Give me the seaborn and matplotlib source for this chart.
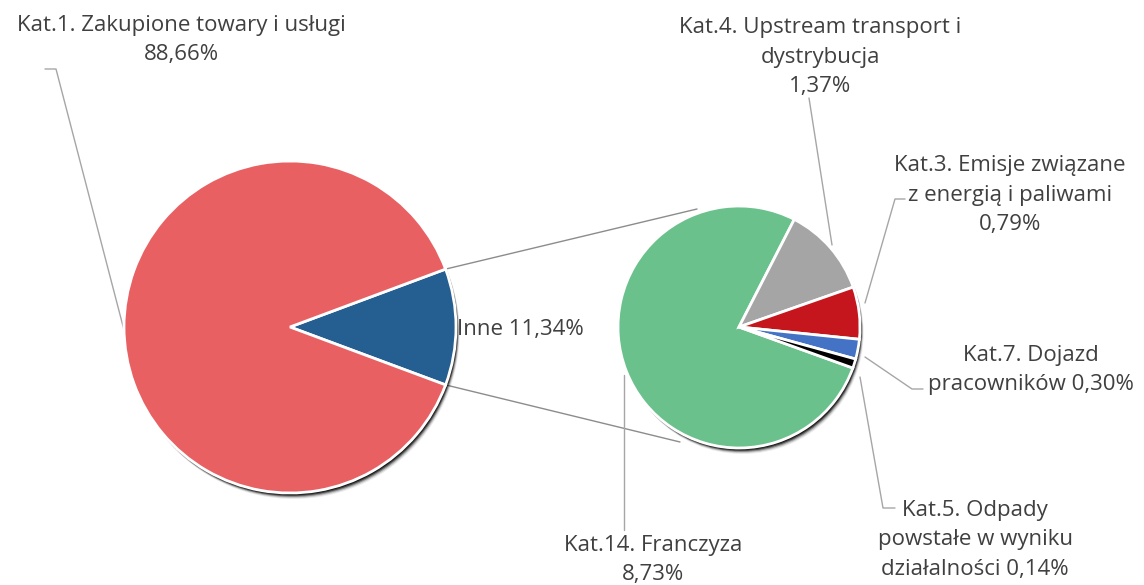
import numpy as np
import matplotlib
matplotlib.use("Agg")
import matplotlib.pyplot as plt
from matplotlib.patches import Circle
import seaborn as sns

# data
main_labels = ["Inne", "Kat.1. Zakupione towary i usługi"]
main_values = [11.34, 88.66]
main_colors = ["#255E91", "#E96063"]

sub_labels = ["Kat.14. Franczyza", "Kat.4. Upstream transport i\ndystrybucja",
              "Kat.3. Emisje związane\nz energią i paliwami",
              "Kat.7. Dojazd\npracowników", "Kat.5. Odpady\npowstałe w wyniku\ndziałalności"]
sub_values = [8.73, 1.37, 0.79, 0.30, 0.14]
sub_colors = ["#6BC18C", "#A5A5A5", "#C4161C", "#4472C4", "#000000"]

sns.set_theme(style="white")
plt.rcParams["font.family"] = ["Open Sans", "DejaVu Sans"]

W, H = 1144, 585
fig = plt.figure(figsize=(W / 100, H / 100), dpi=100)
ax = fig.add_axes([0, 0, 1, 1])

def P(x, y):
    # pixel (top-left origin) -> data coords
    return (x, H - y)

c1, r1 = P(290, 327), 166
c2, r2 = P(739, 327), 121

# soft shadows
for c, r in [(c1, r1), (c2, r2)]:
    for k, a in [(6, 0.08), (5, 0.15), (4, 0.3), (3, 0.5), (2, 0.7)]:
        ax.add_patch(Circle((c[0] + k * 0.6, c[1] - k), r, color="black", alpha=a, lw=0, zorder=1))

half = main_values[0] / sum(main_values) * 360 / 2
ax.pie(main_values, colors=main_colors, center=c1, radius=r1, startangle=half,
       counterclock=False, wedgeprops=dict(edgecolor="white", linewidth=2, zorder=2))

sub_span = sub_values[0] / sum(sub_values) * 360
ax.pie(sub_values, colors=sub_colors, center=c2, radius=r2, startangle=62.8 + sub_span,
       counterclock=False, wedgeprops=dict(edgecolor="white", linewidth=2, zorder=2))

ax.set_xlim(0, W)
ax.set_ylim(0, H)
ax.set_aspect("equal")
ax.axis("off")

# connector lines between pies
for ang, end in [(half, P(697, 209)), (-half, P(680, 442))]:
    x0 = c1[0] + r1 * np.cos(np.radians(ang))
    y0 = c1[1] + r1 * np.sin(np.radians(ang))
    ax.plot([x0, end[0]], [y0, end[1]], color="#8C8C8C", lw=1, zorder=0.5)

# leader lines
lc = "#A6A6A6"
leaders = [
    [(45, 69), (56, 69), (124, 330)],
    [(809, 98), (832, 245)],
    [(905, 199), (895, 199), (865, 303)],
    [(865, 357), (912, 389), (923, 389)],
    [(860, 377), (883, 508), (895, 508)],
    [(624, 375), (624, 530)],
]
for pts in leaders:
    xs, ys = zip(*[P(x, y) for x, y in pts])
    ax.plot(xs, ys, color=lc, lw=1, zorder=0.5)

tc = "#404040"
fs = 16
ls = 1.55
def fmt(v):
    return f"{v:.2f}".replace(".", ",") + "%"

ax.text(*P(181, 40), f"{main_labels[1]}\n{fmt(main_values[1])}", ha="center", va="center",
        fontsize=fs, color=tc, linespacing=ls)
ax.text(*P(457, 330), f"{main_labels[0]} {fmt(main_values[0])}", ha="left", va="center",
        fontsize=fs, color=tc)

sub_pos = [(653, 560, "\n"), (820, 57, "\n"), (1010, 195, "\n"), (1031, 370, " "), (975, 540, " ")]
for lab, v, (x, y, sep) in zip(sub_labels, sub_values, sub_pos):
    ax.text(*P(x, y), f"{lab}{sep}{fmt(v)}", ha="center", va="center",
            fontsize=fs, color=tc, linespacing=ls)

fig.savefig("out.png", dpi=100)
